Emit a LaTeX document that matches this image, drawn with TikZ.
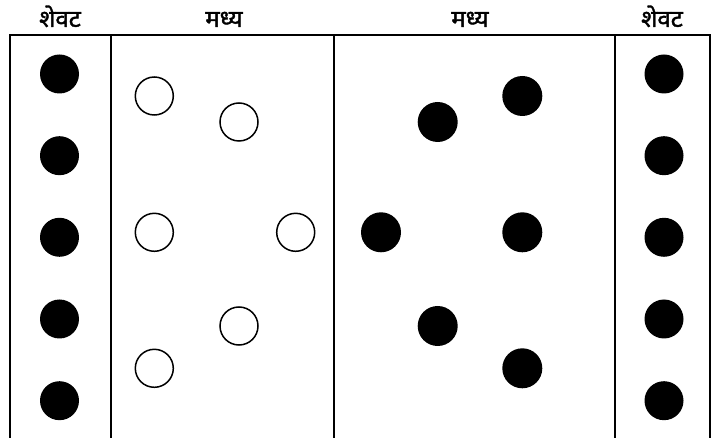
\documentclass[tikz,border=0pt]{standalone}
\usepackage{fontspec}
\newfontfamily\devfont[Script=Devanagari,FakeBold=1.5]{Noto Sans}
\begin{document}
\begin{tikzpicture}[x=1pt,y=-1pt,
  dot/.style={circle,fill=black,inner sep=0pt,minimum size=39pt},
  ring/.style={circle,draw=black,line width=1.5pt,fill=white,inner sep=0pt,minimum size=38pt},
  wall/.style={line width=1.8pt,black},
  lbl/.style={font=\devfont\fontsize{24}{26}\selectfont,inner sep=0pt,anchor=base}]
\useasboundingbox (0,0) rectangle (718,438);
% frame
\draw[wall] (10,438) -- (10,35) -- (710,35) -- (710,438);
\draw[wall] (111,35) -- (111,438);
\draw[wall] (334,35) -- (334,438);
\draw[wall] (615,35) -- (615,438);
% labels
\node[lbl] (l1) at (60,27) {शेवट};
\node[lbl] (l2) at (224,27) {मध्य};
\node[lbl] (l3) at (470,27) {मध्य};
\node[lbl] (l4) at (662,27) {शेवट};
% end columns
\foreach \y [count=\i] in {74,155.7,237.3,319,400.7} {
  \node[dot] (L\i) at (59.5,\y) {};
  \node[dot] (R\i) at (664,\y) {};
}
% open circles
\node[ring] (o1) at (154.3,96) {};
\node[ring] (o2) at (239,122) {};
\node[ring] (o3) at (154.3,232.3) {};
\node[ring] (o4) at (295.7,232.3) {};
\node[ring] (o5) at (239,326) {};
\node[ring] (o6) at (154.3,368.3) {};
% filled middle
\node[dot,minimum size=40pt] (f1) at (522.3,96) {};
\node[dot,minimum size=40pt] (f2) at (437.7,122) {};
\node[dot,minimum size=40pt] (f3) at (381,232.3) {};
\node[dot,minimum size=40pt] (f4) at (522.3,232.3) {};
\node[dot,minimum size=40pt] (f5) at (437.7,326) {};
\node[dot,minimum size=40pt] (f6) at (522.3,368.3) {};
\end{tikzpicture}
\end{document}
